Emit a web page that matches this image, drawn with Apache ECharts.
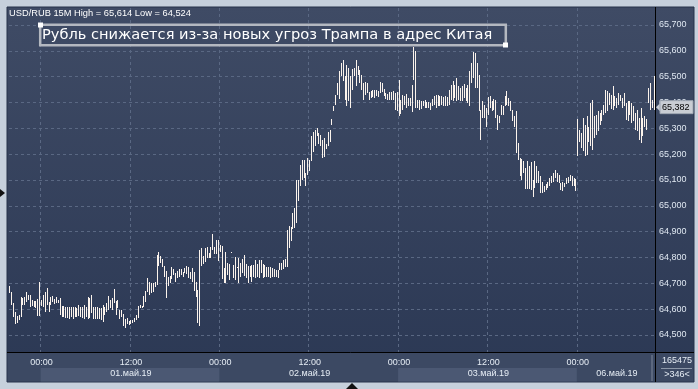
<!DOCTYPE html>
<html><head><meta charset="utf-8">
<script src="https://cdn.jsdelivr.net/npm/echarts@6/dist/echarts.min.js"></script>
<style>html,body{margin:0;padding:0;background:#c6d0dc}#c{width:698px;height:389px}</style>
</head><body><div id="c"></div>
<script>
// trading sessions: [date label, first 15-min slot, end slot (exclusive), show date]
const sessions = [['30.апр.19',79,96,false],['01.май.19',0,96,true],['02.май.19',0,96,true],['03.май.19',0,96,true],['06.май.19',0,42,true]];
const symbolText = 'USD/RUB 15M High = 65,614 Low = 64,524';
const titleText = 'Рубль снижается из-за новых угроз Трампа в адрес Китая';
const lastClose = 65.382;
const volumeText = '165475';
const countText = '>346<';
const yMin = 64.5, yMax = 65.7, yStep = 0.1;

const highs = [
64.690,64.667,64.625,64.590,64.572,64.576,64.649,64.643,64.646,64.668,
64.655,64.655,64.636,64.632,64.630,64.640,64.707,64.636,64.655,64.668,
64.681,64.626,64.646,64.651,64.640,64.649,64.636,64.643,64.613,64.613,
64.610,64.610,64.607,64.607,64.607,64.607,64.604,64.617,64.610,64.607,
64.617,64.607,64.646,64.643,64.655,64.610,64.607,64.607,64.604,64.604,
64.617,64.610,64.623,64.651,64.636,64.643,64.678,64.630,64.636,64.597,
64.597,64.581,64.561,64.565,64.556,64.558,64.558,64.565,64.578,64.614,
64.616,64.614,64.651,64.672,64.720,64.707,64.700,64.703,64.707,64.810,
64.823,64.806,64.793,64.767,64.748,64.724,64.729,64.762,64.755,64.739,
64.749,64.755,64.757,64.742,64.758,64.767,64.762,64.744,64.758,64.742,
64.707,64.674,64.829,64.836,64.806,64.836,64.840,64.819,64.840,64.891,
64.842,64.866,64.866,64.849,64.845,64.758,64.823,64.778,64.775,64.823,
64.771,64.801,64.765,64.797,64.778,64.793,64.810,64.775,64.767,64.767,
64.771,64.771,64.791,64.775,64.791,64.791,64.775,64.771,64.762,64.762,
64.762,64.758,64.755,64.752,64.752,64.778,64.778,64.791,64.793,64.907,
64.920,64.917,64.972,64.991,65.101,65.101,65.159,65.178,65.178,65.129,
65.185,65.176,65.269,65.284,65.295,65.301,65.282,65.275,65.256,65.262,
65.240,65.284,65.295,65.336,65.385,65.430,65.475,65.521,65.553,65.563,
65.501,65.547,65.534,65.501,65.530,65.534,65.566,65.543,65.527,65.508,
65.475,65.478,65.475,65.439,65.443,65.447,65.450,65.447,65.443,65.478,
65.475,65.452,65.437,65.434,65.439,65.439,65.443,65.437,65.439,65.488,
65.411,65.430,65.424,65.434,65.417,65.417,65.469,65.614,65.598,65.411,
65.408,65.404,65.404,65.411,65.400,65.400,65.398,65.413,65.424,65.430,
65.430,65.426,65.424,65.421,65.424,65.421,65.450,65.469,65.482,65.469,
65.495,65.465,65.456,65.463,65.473,65.456,65.469,65.521,65.553,65.594,
65.592,65.553,65.508,65.372,65.404,65.391,65.379,65.421,65.424,65.404,
65.413,65.411,65.353,65.346,65.391,65.387,65.424,65.443,65.417,65.404,
65.372,65.349,65.366,65.245,65.185,65.181,65.172,65.146,65.172,65.155,
65.168,65.101,65.172,65.155,65.133,65.114,65.094,65.078,65.085,65.094,
65.107,65.114,65.127,65.140,65.127,65.120,65.088,65.094,65.090,65.107,
65.111,65.120,65.114,65.107,65.103,65.336,65.295,65.282,65.340,65.314,
65.346,65.307,65.398,65.411,65.346,65.353,65.366,65.359,65.372,65.391,
65.450,65.443,65.437,65.430,65.465,65.426,65.417,65.437,65.430,65.417,
65.437,65.398,65.404,65.404,65.398,65.385,65.359,65.372,65.340,65.379,
65.340,65.346,65.336,65.456,65.475,65.411,65.501
];
const lows = [
64.663,64.615,64.571,64.541,64.545,64.558,64.571,64.615,64.617,64.629,
64.636,64.607,64.613,64.608,64.604,64.574,64.574,64.613,64.607,64.590,
64.617,64.590,64.617,64.627,64.620,64.623,64.623,64.578,64.571,64.568,
64.565,64.565,64.561,64.568,64.561,64.568,64.571,64.574,64.571,64.565,
64.561,64.568,64.561,64.565,64.584,64.561,64.561,64.561,64.561,64.558,
64.552,64.578,64.590,64.597,64.604,64.597,64.623,64.578,64.604,64.561,
64.571,64.535,64.526,64.543,64.539,64.543,64.545,64.552,64.558,64.567,
64.603,64.606,64.610,64.629,64.668,64.655,64.661,64.668,64.687,64.694,
64.767,64.778,64.762,64.726,64.642,64.690,64.703,64.716,64.733,64.707,
64.720,64.726,64.733,64.724,64.739,64.736,64.720,64.716,64.707,64.672,
64.649,64.545,64.535,64.767,64.775,64.784,64.797,64.797,64.797,64.829,
64.814,64.814,64.788,64.823,64.716,64.700,64.700,64.733,64.713,64.819,
64.720,64.711,64.758,64.700,64.726,64.739,64.729,64.720,64.703,64.726,
64.707,64.726,64.720,64.724,64.720,64.739,64.720,64.724,64.724,64.724,
64.720,64.724,64.724,64.724,64.720,64.752,64.752,64.755,64.765,64.765,
64.836,64.862,64.910,64.913,64.933,65.017,65.075,65.101,65.107,65.075,
65.120,65.133,65.172,65.207,65.230,65.269,65.240,65.230,65.185,65.189,
65.220,65.233,65.249,65.314,65.366,65.391,65.430,65.413,65.501,65.482,
65.411,65.385,65.404,65.379,65.450,65.501,65.463,65.508,65.475,65.450,
65.408,65.430,65.437,65.411,65.417,65.421,65.417,65.426,65.421,65.437,
65.439,65.424,65.413,65.411,65.411,65.408,65.408,65.372,65.366,65.349,
65.357,65.372,65.391,65.379,65.385,65.385,65.362,65.488,65.379,65.379,
65.372,65.375,65.385,65.379,65.379,65.379,65.372,65.385,65.391,65.379,
65.385,65.385,65.391,65.385,65.385,65.385,65.391,65.411,65.404,65.417,
65.404,65.411,65.404,65.404,65.417,65.404,65.398,65.385,65.475,65.495,
65.456,65.456,65.366,65.256,65.340,65.340,65.305,65.353,65.379,65.366,
65.372,65.340,65.292,65.320,65.353,65.353,65.385,65.391,65.385,65.366,
65.327,65.307,65.204,65.176,65.114,65.101,65.129,65.065,65.065,65.065,
65.062,65.036,65.068,65.090,65.088,65.049,65.049,65.052,65.062,65.068,
65.075,65.088,65.094,65.107,65.094,65.090,65.062,65.059,65.072,65.085,
65.090,65.098,65.075,65.078,65.059,65.191,65.249,65.224,65.211,65.191,
65.198,65.249,65.230,65.217,65.262,65.275,65.288,65.314,65.327,65.353,
65.359,65.366,65.391,65.375,65.372,65.385,65.379,65.391,65.404,65.379,
65.385,65.333,65.327,65.353,65.320,65.327,65.295,65.288,65.256,65.243,
65.269,65.307,65.295,65.398,65.372,65.379,65.372
];

// categories (time of each 15-minute bar) and label text
const categories = [], slotOf = [], labelText = [];
sessions.forEach(function (s) {
  const start = categories.length;
  for (let k = s[1]; k < s[2]; k++) {
    const hh = String(Math.floor(k / 4)).padStart(2, '0');
    const mm = String((k % 4) * 15).padStart(2, '0');
    categories.push(s[0] + ' ' + hh + ':' + mm);
    slotOf.push(k);
    labelText.push(k % 48 === 0 ? hh + ':' + mm : '');
  }
  if (s[3]) {
    const mid = start + Math.floor((s[2] - s[1]) / 2);
    labelText[mid] = (labelText[mid] || '') + '\n' + s[0];
  }
});
const sessionStarts = [];
{ let acc = 0; sessions.forEach(function (s) { sessionStarts.push(acc); acc += s[2] - s[1]; }); sessionStarts.push(acc); }

const data = highs.map(function (h, i) { return [i, h, lows[i]]; });
const fmt = function (v) { return v.toFixed(3).replace('.', ','); };
const FONT = 'Liberation Sans';

const chart = echarts.init(document.getElementById('c'), null, { renderer: 'canvas' });
chart.setOption({
  animation: false,
  backgroundColor: '#c6d0dc',
  grid: [
    { left: 9, width: 646, top: 25, height: 310 },
    { left: 9, width: 646, top: 8, height: 344 }
  ],
  xAxis: [
    { type: 'category', gridIndex: 0, data: categories, boundaryGap: true, show: false },
    { type: 'category', gridIndex: 1, data: categories, boundaryGap: true, position: 'bottom',
      axisLine: { show: false }, axisTick: { show: false },
      splitLine: { show: true, interval: function (i) { return slotOf[i] % 48 === 0; },
        lineStyle: { color: '#5a6883', type: [3, 3], width: 1 } },
      axisLabel: { interval: function (i) { return labelText[i] !== ''; },
        formatter: function (v, i) { return labelText[i]; },
        color: '#e6edf5', fontFamily: FONT, fontSize: 9, lineHeight: 11, margin: 5 }
    }
  ],
  yAxis: [
    { type: 'value', gridIndex: 0, position: 'right', min: yMin, max: yMax, interval: yStep,
      axisLine: { show: false }, axisTick: { show: false },
      splitLine: { show: true, lineStyle: { color: '#5a6883', type: [3, 3], width: 1 } },
      axisLabel: { formatter: fmt, color: '#dfe7f1', fontFamily: FONT, fontSize: 9, margin: 4 } },
    { type: 'value', gridIndex: 1, show: false, min: 0, max: 1 }
  ],
  series: [{
    type: 'custom', xAxisIndex: 0, yAxisIndex: 0, data: data, z: 5,
    encode: { x: 0, y: [1, 2] },
    renderItem: function (params, api) {
      const top = api.coord([api.value(0), api.value(1)]);
      const bot = api.coord([api.value(0), api.value(2)]);
      const x = Math.round(top[0] - 0.5);
      const y = Math.round(top[1]);
      const h = Math.max(1, Math.round(bot[1]) - y);
      return { type: 'rect', shape: { x: x, y: y, width: 1, height: h }, style: { fill: '#fbf3ec' } };
    }
  }]
});

// decorations positioned from the axes
const c0 = chart.convertToPixel({ xAxisIndex: 1 }, 0);
const c1 = chart.convertToPixel({ xAxisIndex: 1 }, 1);
const bw = c1 - c0;
const edge = function (i) { return c0 - bw / 2 + i * bw; };
const yLast = chart.convertToPixel({ yAxisIndex: 0 }, lastClose);
const plotR = edge(categories.length);
const bands = [];
sessions.forEach(function (s, k) {
  if (k % 2 === 1) {
    bands.push({ type: 'rect', z: -5, shape: { x: edge(sessionStarts[k]), y: 368, width: edge(sessionStarts[k + 1]) - edge(sessionStarts[k]), height: 13.5 }, style: { fill: '#4b5873' } });
  }
});

chart.setOption({
  graphic: { elements: [
    { type: 'rect', z: -10, shape: { x: 7, y: 7, width: 687, height: 375 },
      style: { fill: new echarts.graphic.LinearGradient(0, 0, 0, 1, [{ offset: 0, color: '#3f4b65' }, { offset: 1, color: '#2b3854' }]), stroke: '#27324a', lineWidth: 1 } },
    { type: 'rect', z: -6, shape: { x: 7.5, y: 352.5, width: 686, height: 29 }, style: { fill: '#3c4963' } }
  ].concat(bands).concat([
    { type: 'line', z: 8, shape: { x1: 7, y1: 352.5, x2: 694, y2: 352.5 }, style: { stroke: '#000', lineWidth: 1 } },
    { type: 'line', z: 8, shape: { x1: plotR + 0.5, y1: 7, x2: plotR + 0.5, y2: 382 }, style: { stroke: '#000', lineWidth: 1 } },
    { type: 'line', z: 8, shape: { x1: plotR - 3, y1: 355, x2: plotR - 3, y2: 381 }, style: { stroke: '#7c879a', lineWidth: 1 } },
    { type: 'line', z: 8, shape: { x1: 661, y1: 368.5, x2: 692, y2: 368.5 }, style: { stroke: '#8c97a8', lineWidth: 1 } },
    { type: 'text', z: 9, style: { text: volumeText, x: 677, y: 361, align: 'center', verticalAlign: 'middle', fill: '#e6edf5', font: '9px "Liberation Sans"' } },
    { type: 'text', z: 9, style: { text: countText, x: 677, y: 375, align: 'center', verticalAlign: 'middle', fill: '#e6edf5', font: '9px "Liberation Sans"' } },
    { type: 'text', z: 9, style: { text: symbolText, x: 9, y: 13, align: 'left', verticalAlign: 'middle', fill: '#ffffff', font: '9.3px "Liberation Sans"' } },
    { type: 'rect', z: 9, shape: { x: 40.2, y: 24.7, width: 465.6, height: 20.6 }, style: { fill: 'none', stroke: '#b4b8c0', lineWidth: 2.5 } },
    { type: 'rect', z: 10, shape: { x: 38, y: 22.5, width: 5, height: 5 }, style: { fill: '#ffffff' } },
    { type: 'rect', z: 10, shape: { x: 503, y: 42.5, width: 5, height: 5 }, style: { fill: '#ffffff' } },
    { type: 'text', z: 10, style: { text: titleText, x: 42, y: 35.5, align: 'left', verticalAlign: 'middle', fill: '#ffffff', font: '14.6px "DejaVu Sans"' } },
    { type: 'polygon', z: 10, shape: { points: [[656, yLast], [660, yLast - 4], [660, yLast + 4]] }, style: { fill: '#c9cdd4' } },
    { type: 'rect', z: 10, shape: { x: 660, y: yLast - 6.5, width: 33, height: 13 }, style: { fill: '#c9cdd4', stroke: '#9ea6b2', lineWidth: 1 } },
    { type: 'text', z: 11, style: { text: fmt(lastClose), x: 662, y: yLast, align: 'left', verticalAlign: 'middle', fill: '#000000', font: '9px "Liberation Sans"' } },
    { type: 'polygon', z: 10, shape: { points: [[0, 189], [5, 193], [0, 197]] }, style: { fill: '#111' } },
    { type: 'polygon', z: 10, shape: { points: [[346, 389], [352, 383], [358, 389]] }, style: { fill: '#111' } }
  ]) }
});
</script></body></html>
